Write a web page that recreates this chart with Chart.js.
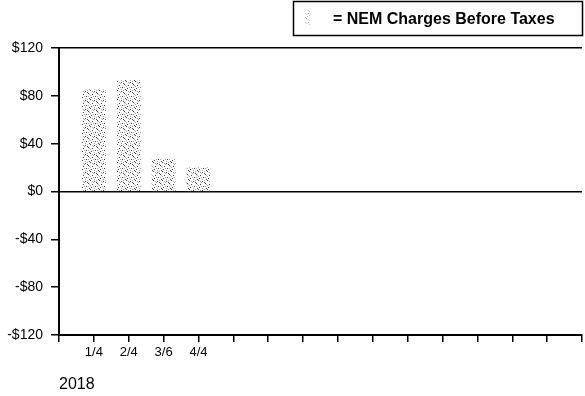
<!DOCTYPE html>
<html>
<head>
<meta charset="utf-8">
<script src="https://cdn.jsdelivr.net/npm/chart.js@4/dist/chart.umd.min.js"></script>
<style>
  html, body { margin: 0; padding: 0; background: #fff; }
  #wrap { width: 585px; height: 396px; }
</style>
</head>
<body>
<div id="wrap"><canvas id="nemChart"></canvas></div>
<script>
// values
var categories = ['1/4', '2/4', '3/6', '4/4'];
var charges = [85, 93, 27, 20];
var yTicks = [-120, -80, -40, 0, 40, 80, 120];
var slots = 16; // tick marks along the bottom axis
var seriesLabel = 'NEM Charges Before Taxes';

// pad the category list out to the empty months on the axis
var labels = [];
var values = [];
for (var i = 0; i < slots; i++) {
  labels.push(i >= 1 && i <= categories.length ? categories[i - 1] : '');
  values.push(i >= 1 && i <= charges.length ? charges[i - 1] : null);
}

// stippled fill like the printed bars
function stipple(light) {
  var c = document.createElement('canvas');
  c.width = 9; c.height = 9;
  var g = c.getContext('2d');
  g.fillStyle = '#fff';
  g.fillRect(0, 0, 9, 9);
  var dark = [[0,0],[4,1],[7,3],[2,4],[5,6],[1,7],[8,8],[6,2]];
  var mid = [[3,2],[6,0],[0,5],[7,6],[4,8],[2,1],[8,4],[3,6]];
  g.fillStyle = light ? '#aaa' : '#444';
  dark.forEach(function(p) { g.fillRect(p[0], p[1], 1, 1); });
  g.fillStyle = light ? '#ccc' : '#aaa';
  mid.forEach(function(p) { g.fillRect(p[0], p[1], 1, 1); });
  return g.createPattern(c, 'repeat');
}

var boxLegend = {
  id: 'boxLegend',
  afterDraw: function(chart) {
    var ctx = chart.ctx;
    ctx.save();
    ctx.strokeStyle = '#000';
    ctx.lineWidth = 1.5;
    ctx.strokeRect(293.5, 1.5, 289, 34);
    ctx.fillStyle = stipple(true);
    ctx.fillRect(305, 10, 5, 15);
    ctx.fillStyle = '#000';
    ctx.font = 'bold 16px "Liberation Sans", Arial, sans-serif';
    ctx.textBaseline = 'middle';
    ctx.fillText('= ' + chart.data.datasets[0].label, 333, 20);
    ctx.restore();
  }
};

new Chart(document.getElementById('nemChart').getContext('2d'), {
  type: 'bar',
  data: {
    labels: labels,
    datasets: [{
      label: seriesLabel,
      data: values,
      backgroundColor: stipple(false),
      borderWidth: 0,
      barThickness: 23
    }]
  },
  plugins: [boxLegend],
  options: {
    responsive: true,
    maintainAspectRatio: false,
    animation: false,
    layout: { padding: { top: 48, left: 0, right: 0, bottom: 0 } },
    plugins: {
      legend: { display: false },
      tooltip: { enabled: false }
    },
    scales: {
      x: {
        offset: false,
        afterFit: function(scale) { scale.height = 61; },
        border: { display: true, color: '#000', width: 2 },
        grid: { offset: false, drawOnChartArea: false, tickLength: 7, tickColor: '#000', lineWidth: 1.5 },
        ticks: {
          autoSkip: false,
          maxRotation: 0,
          padding: 3,
          color: '#000',
          font: { family: '"Liberation Sans", Arial, sans-serif', size: 13 }
        },
        title: {
          display: true,
          text: '2018',
          align: 'start',
          color: '#000',
          padding: { top: 4, bottom: 2 },
          font: { family: '"Liberation Sans", Arial, sans-serif', size: 16 }
        }
      },
      y: {
        min: yTicks[0],
        max: yTicks[yTicks.length - 1],
        afterFit: function(scale) { scale.width = 59; },
        afterBuildTicks: function(scale) {
          scale.ticks = yTicks.map(function(v) { return { value: v }; });
        },
        border: { display: true, color: '#000', width: 2 },
        grid: {
          drawOnChartArea: true,
          tickLength: 8,
          tickColor: '#000',
          lineWidth: 1.5,
          color: function(ctx) {
            var v = ctx.tick && ctx.tick.value;
            return (v === 0 || v === 120) ? '#000' : 'rgba(0,0,0,0)';
          }
        },
        ticks: {
          padding: 8,
          color: '#000',
          font: { family: '"Liberation Sans", Arial, sans-serif', size: 14 },
          callback: function(v) { return (v < 0 ? '-$' : '$') + Math.abs(v); }
        }
      }
    }
  }
});
</script>
</body>
</html>
